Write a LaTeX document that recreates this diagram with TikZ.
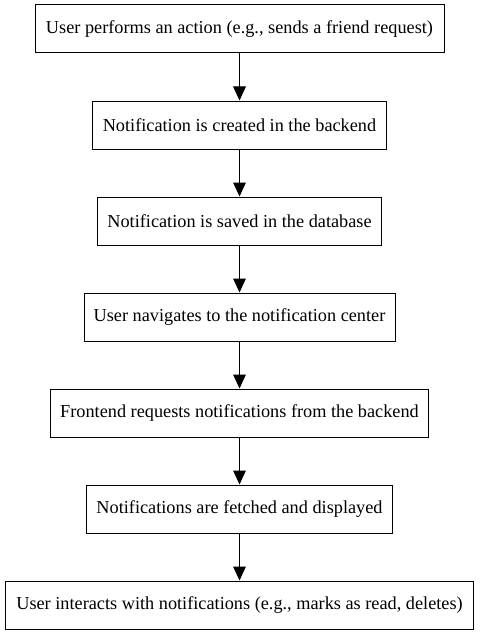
\documentclass[tikz,border=0pt]{standalone}
\usepackage{fontspec}
\setmainfont{Liberation Serif}
\usetikzlibrary{arrows.meta}
\begin{document}
\begin{tikzpicture}[x=0.75pt,y=-0.75pt,
  stepbox/.style={draw,line width=0.75pt,minimum height=36pt,inner sep=0pt,font=\fontsize{13.7pt}{16pt}\selectfont,anchor=center},
  flow/.style={line width=0.75pt,-{Triangle[length=10.5pt,width=9.5pt]}}]
\useasboundingbox (0,0) rectangle (479,635);
\node[stepbox,minimum width=409*0.75pt] (n1) at (239.5,29) {User performs an action (e.g., sends a friend request)};
\node[stepbox,minimum width=294*0.75pt] (n2) at (239.5,125) {Notification is created in the backend};
\node[stepbox,minimum width=284*0.75pt] (n3) at (239.5,221) {Notification is saved in the database};
\node[stepbox,minimum width=311*0.75pt] (n4) at (239.5,317) {User navigates to the notification center};
\node[stepbox,minimum width=378*0.75pt] (n5) at (239.5,413) {Frontend requests notifications from the backend};
\node[stepbox,minimum width=306*0.75pt] (n6) at (239.5,509) {Notifications are fetched and displayed};
\node[stepbox,minimum width=468*0.75pt] (n7) at (239.5,605) {User interacts with notifications (e.g., marks as read, deletes)};
\draw[flow] (n1) -- (n2);
\draw[flow] (n2) -- (n3);
\draw[flow] (n3) -- (n4);
\draw[flow] (n4) -- (n5);
\draw[flow] (n5) -- (n6);
\draw[flow] (n6) -- (n7);
\end{tikzpicture}
\end{document}
